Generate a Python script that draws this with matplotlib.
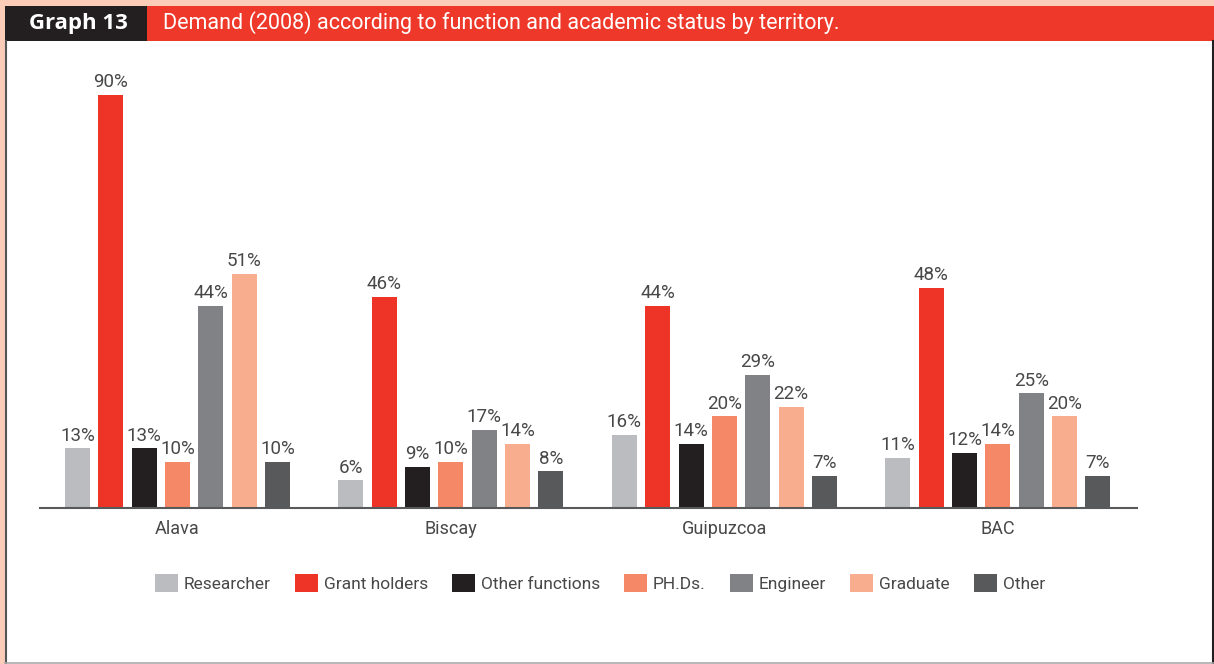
import matplotlib
matplotlib.use("Agg")
import matplotlib.pyplot as plt
from matplotlib.patches import Rectangle, Patch
import numpy as np

plt.rcParams['font.family'] = ['Roboto', 'DejaVu Sans']

territories = ["Alava", "Biscay", "Guipuzcoa", "BAC"]
series = ["Researcher", "Grant holders", "Other functions", "PH.Ds.", "Engineer", "Graduate", "Other"]
researcher = [13, 6, 16, 11]
grant_holders = [90, 46, 44, 48]
other_functions = [13, 9, 14, 12]
phds = [10, 10, 20, 14]
engineer = [44, 17, 29, 25]
graduate = [51, 14, 22, 20]
other = [10, 8, 7, 7]
values = [researcher, grant_holders, other_functions, phds, engineer, graduate, other]
colors = ["#BBBCC0", "#EE3427", "#231F20", "#F58866", "#818286", "#F9AD8F", "#58595B"]
text_color = "#48484A"

W, H = 1214, 664
fig = plt.figure(figsize=(W / 100, H / 100), dpi=100)
fig.patch.set_facecolor("white")

def px(x0, y0, w, h):
    return [x0 / W, 1 - (y0 + h) / H, w / W, h / H]

# background decorations
bg = fig.add_axes([0, 0, 1, 1])
bg.set_xlim(0, W); bg.set_ylim(H, 0); bg.axis("off")
bg.add_patch(Rectangle((0, 0), W, 7, color="#FBCDB8", lw=0))
bg.add_patch(Rectangle((0, 0), 5, H, color="#FBCDB8", lw=0))
bg.add_patch(Rectangle((5, 6), 142, 35, color="#231F20", lw=0))
bg.add_patch(Rectangle((147, 6), W - 147, 35, color="#EE3829", lw=0))
bg.plot([6, 6], [41, 663], color="#555555", lw=1.5)
bg.plot([1212.5, 1212.5], [41, 663], color="#231F20", lw=1.5)
bg.plot([5, 1213], [662.5, 662.5], color="#AAAAAA", lw=1.2)
bg.text(78, 23, "Graph 13", color="white", fontsize=16, fontweight="bold",
        ha="center", va="center", family=['Open Sans', 'DejaVu Sans'])
bg.text(163, 23, "Demand (2008) according to function and academic status by territory.",
        color="white", fontsize=15.5, ha="left", va="center")

ax = fig.add_axes(px(40, 60, 1097, 448))
ymax = 448 / 4.59
ax.set_ylim(0, ymax)
group_gap = 8.205
centers = np.arange(len(territories)) * group_gap
n = len(series)
for i, (s, v, c) in enumerate(zip(series, values, colors)):
    xs = centers + (i - (n - 1) / 2)
    ax.bar(xs, v, width=0.75, color=c, label=s, zorder=2)
    for x, val in zip(xs, v):
        ax.text(x, val + 0.8, f"{val}%", ha="center", va="bottom", fontsize=13.5, color=text_color)
ax.set_xlim(-4.125, 28.79)
ax.set_xticks(centers)
ax.set_xticklabels(territories, fontsize=13, color=text_color)
ax.tick_params(axis="x", length=0, pad=9)
ax.set_yticks([])
for sp in ["top", "right", "left"]:
    ax.spines[sp].set_visible(False)
ax.spines["bottom"].set_color("#58595B")
ax.spines["bottom"].set_linewidth(1.5)
ax.set_facecolor("none")

handles = [Patch(facecolor=c, edgecolor="none", label=s) for s, c in zip(series, colors)]
leg = fig.legend(handles=handles, loc="center", bbox_to_anchor=(600 / W, 1 - 583 / H), ncol=7,
                 frameon=False, fontsize=12.5, handlelength=1.3, handleheight=1.3,
                 handletextpad=0.35, columnspacing=1.4, labelcolor=text_color)

fig.savefig("out.png", dpi=100)
